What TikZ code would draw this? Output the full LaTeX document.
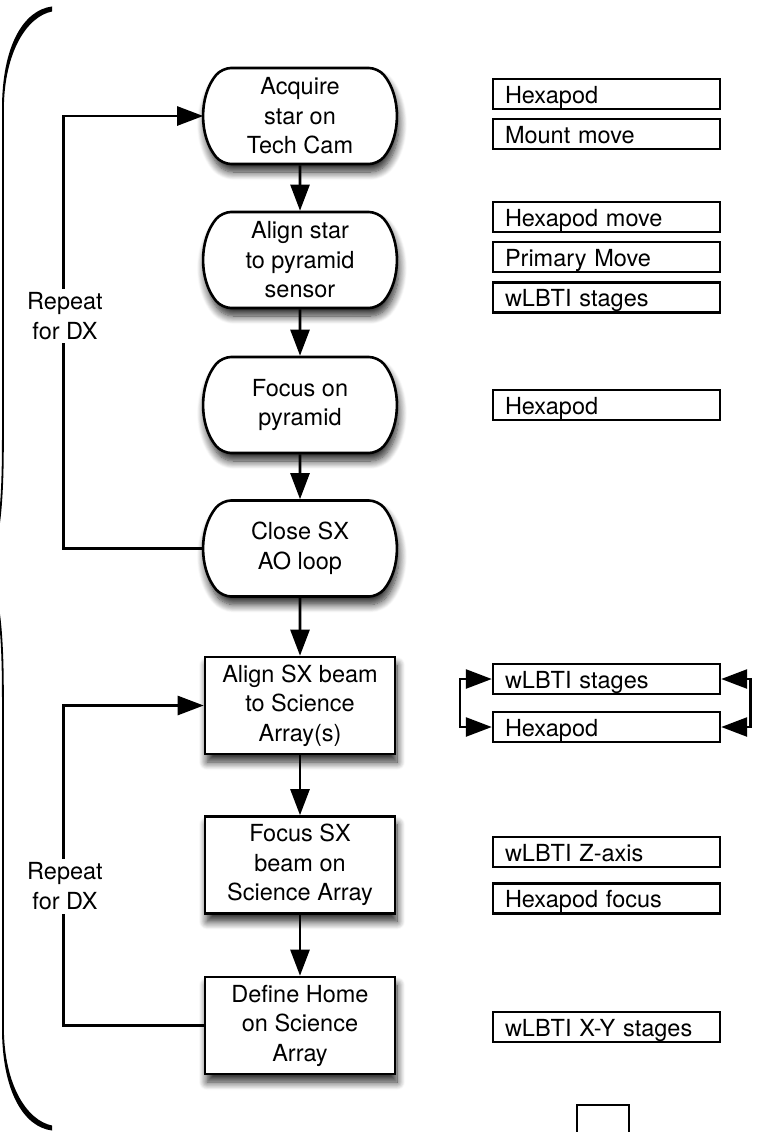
\documentclass[tikz,border=0pt]{standalone}
\usepackage{fontspec}
\setmainfont{TeX Gyre Heros}
\usetikzlibrary{shapes.misc,arrows.meta,shadows.blur}

\begin{document}
\begin{tikzpicture}[x=1pt,y=-1pt,
  every node/.style={font=\fontsize{23.5}{29.5}\selectfont},
  softshadow/.style={blur shadow={shadow xshift=2pt,shadow yshift=-8pt,
      shadow blur radius=8pt,shadow blur steps=10,shadow opacity=85}},
  roundstep/.style={rounded rectangle, rounded rectangle arc length=80,
      rounded corners=9pt,
      draw, line width=2.6pt, fill=white, minimum width=191, minimum height=96,
      inner sep=0pt, align=center, softshadow},
  rectstep/.style={rectangle, draw, line width=2.6pt, fill=white,
      minimum width=190, minimum height=97, inner sep=0pt, align=center, softshadow},
  actbox/.style={rectangle, draw, line width=2.4pt, fill=white,
      minimum width=227, minimum height=30, text width=203, inner xsep=12pt,
      inner ysep=0pt, text height=21pt, text depth=3pt, align=left},
  replabel/.style={fill=white, align=center, inner xsep=2pt, inner ysep=4pt},
  link/.style={line width=2.6pt},
  flow/.style={link, -{Triangle[length=26pt,width=19pt]}},
  twoway/.style={link, {Triangle[length=26pt,width=19pt]}-{Triangle[length=26pt,width=19pt]}},
]
\useasboundingbox (0,0) rectangle (758,1132);
\clip (0,0) rectangle (758,1132);

% curly brace along the left edge
\fill (52,6.5) .. controls (24,10) and (1.8,45) .. (2,110)
  -- (3.8,110) .. controls (4,52) and (27,16.5) .. (52,11.5) -- cycle;
\fill (52,1130.5) .. controls (24,1127) and (1.8,1092) .. (2,1027)
  -- (3.8,1027) .. controls (4,1085) and (27,1120.5) .. (52,1125.5) -- cycle;
\draw[line width=1.8pt] (2.9,108) -- (2.9,440)
  .. controls (2.9,520) and (-3,552) .. (-16,568.5)
  .. controls (-3,585) and (2.9,617) .. (2.9,697) -- (2.9,1029);

% main sequence
\node[roundstep] (acq)   at (300,116)   {Acquire\\star on\\Tech Cam};
\node[roundstep] (align) at (300,260)   {Align star\\to pyramid\\sensor};
\node[roundstep] (focus) at (300,405)   {Focus on\\pyramid};
\node[roundstep] (close) at (300,548.5) {Close SX\\AO loop};
\node[rectstep]  (beam)  at (300,705.5) {Align SX beam\\to Science\\Array(s)};
\node[rectstep]  (sfoc)  at (300,865)   {Focus SX\\beam on\\Science Array};
\node[rectstep]  (home)  at (300,1025.5){Define Home\\on Science\\Array};

\draw[flow] (acq) -- (align);
\draw[flow] (align) -- (focus);
\draw[flow] (focus) -- (close);
\draw[flow] (close) -- (beam);
\draw[flow] (beam) -- (sfoc);
\draw[flow] (sfoc) -- (home);

% repeat loops
\draw[flow] (close.west) -- ++(-140,0) |- (acq.west);
\draw[flow] (home.west) -- ++(-140,0) |- (beam.west);
\node[replabel] (rep1) at (65,316) {Repeat\\for DX};
\node[replabel] (rep2) at (65,886) {Repeat\\for DX};

% actuators used at each step
\node[actbox] (a1) at (606.5,94)   {Hexapod};
\node[actbox] (a2) at (606.5,134)  {Mount move};
\node[actbox] (b1) at (606.5,217)  {Hexapod move};
\node[actbox] (b2) at (606.5,257)  {Primary Move};
\node[actbox] (b3) at (606.5,297.5){wLBTI stages};
\node[actbox] (c1) at (606.5,405)  {Hexapod};
\node[actbox] (d1) at (606.5,679)  {wLBTI stages};
\node[actbox] (d2) at (606.5,727)  {Hexapod};
\node[actbox] (e1) at (606.5,852)  {wLBTI Z-axis};
\node[actbox] (e2) at (606.5,898.5){Hexapod focus};
\node[actbox] (f1) at (606.5,1027) {wLBTI X-Y stages};

\draw[twoway] (d1.west) -- ++(-32,0) |- (d2.west);
\draw[twoway] (d1.east) -- ++(29,0) |- (d2.east);

\node[draw, line width=2pt, minimum width=52, minimum height=40, inner sep=0pt,
  anchor=north west] (stub) at (576,1104) {};
\end{tikzpicture}
\end{document}
